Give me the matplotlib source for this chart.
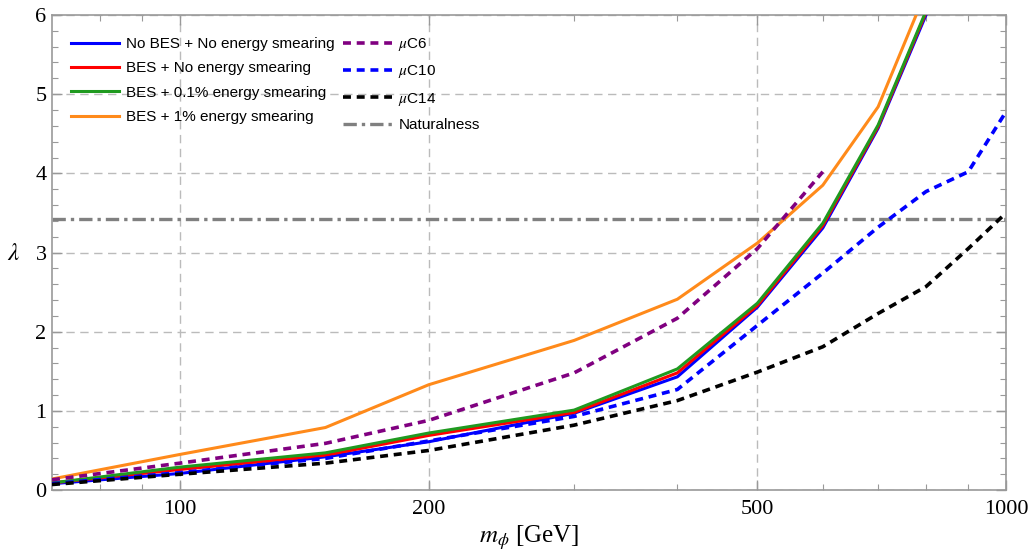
import matplotlib
matplotlib.use("Agg")
import matplotlib.pyplot as plt
from matplotlib.ticker import FixedLocator, NullFormatter, MultipleLocator

plt.rcParams["mathtext.fontset"] = "stix"

# masses (GeV) and lambda values
m_main = [70, 100, 150, 200, 300, 400, 500, 600, 700, 800]
no_bes = [0.08, 0.21, 0.42, 0.61, 0.97, 1.43, 2.31, 3.31, 4.57, 6.0]
bes_no = [0.09, 0.26, 0.44, 0.69, 0.98, 1.48, 2.33, 3.34, 4.59, 6.03]
bes_01 = [0.09, 0.29, 0.47, 0.72, 1.01, 1.53, 2.36, 3.37, 4.61, 6.05]
bes_1 = [0.14, 0.45, 0.79, 1.33, 1.89, 2.41, 3.12, 3.85, 4.84, 6.3]

m_c6 = [70, 100, 150, 200, 300, 400, 500, 600]
mu_c6 = [0.13, 0.34, 0.59, 0.88, 1.48, 2.17, 3.05, 4.02]

m_c = [70, 100, 150, 200, 300, 400, 500, 600, 700, 800, 900, 1000]
mu_c10 = [0.08, 0.22, 0.40, 0.62, 0.93, 1.27, 2.08, 2.74, 3.32, 3.77, 4.02, 4.78]
mu_c14 = [0.07, 0.20, 0.34, 0.50, 0.82, 1.13, 1.49, 1.81, 2.23, 2.57, 3.05, 3.5]

naturalness = 3.42

fig = plt.figure(figsize=(10.34, 5.55), dpi=100)
ax = fig.add_axes([0.0503, 0.117, 0.9227, 0.856])

lw = 2.2
ax.plot(m_main, no_bes, color="#0000ff", lw=lw, label="No BES + No energy smearing", zorder=3)
ax.plot(m_main, bes_no, color="#ff0000", lw=lw, label="BES + No energy smearing", zorder=3)
ax.plot(m_main, bes_01, color="#1f9a1f", lw=lw, label="BES + 0.1% energy smearing", zorder=3)
ax.plot(m_main, bes_1, color="#ff8a1a", lw=lw, label="BES + 1% energy smearing", zorder=3)
ax.plot(m_c6, mu_c6, color="#800080", lw=2.6, ls=(0, (2.2, 1.6)), label=r"$\mu$C6", zorder=4)
ax.plot(m_c, mu_c10, color="#0000ff", lw=2.6, ls=(0, (2.2, 1.6)), label=r"$\mu$C10", zorder=4)
ax.plot(m_c, mu_c14, color="black", lw=2.6, ls=(0, (2.2, 1.6)), label=r"$\mu$C14", zorder=4)
ax.axhline(naturalness, color="#808080", lw=2.4, ls=(0, (4, 1.5, 1, 1.5)), label="Naturalness", zorder=2)

ax.set_xscale("log")
ax.set_xlim(70, 1000)
ax.set_ylim(0, 6)

ax.xaxis.set_major_locator(FixedLocator([100, 200, 500, 1000]))
ax.xaxis.set_major_formatter(matplotlib.ticker.FixedFormatter(["100", "200", "500", "1000"]))
ax.xaxis.set_minor_locator(FixedLocator([80, 90, 300, 400, 600, 700, 800, 900]))
ax.xaxis.set_minor_formatter(NullFormatter())
ax.yaxis.set_major_locator(MultipleLocator(1))
ax.yaxis.set_minor_locator(MultipleLocator(0.2))

for s in ax.spines.values():
    s.set_color("#999999")
    s.set_linewidth(1.2)
ax.tick_params(which="both", direction="in", top=True, right=True, color="#999999")
ax.tick_params(which="major", length=7, width=1)
ax.tick_params(which="minor", length=4, width=0.8)
ax.tick_params(axis="both", labelsize=16, labelcolor="black")
for lab in ax.get_xticklabels() + ax.get_yticklabels():
    lab.set_family("Liberation Serif")
ax.tick_params(axis="x", pad=7)
ax.tick_params(axis="y", pad=4)

ax.grid(True, which="major", color="#bbbbbb", ls=(0, (6, 4)), lw=1.0, zorder=1)

ax.set_xlabel(r"$m_\phi$ [GeV]", fontsize=18, family="Liberation Serif", labelpad=3)
ax.set_ylabel(r"$\lambda$", fontsize=18, rotation=0, labelpad=16, va="center")

ax.legend(loc="upper left", ncol=2, frameon=False,
          prop={"family": "Liberation Sans", "size": 11},
          handlelength=3.2, handletextpad=0.4, columnspacing=0.6,
          labelspacing=0.68, bbox_to_anchor=(0.005, 0.985))

fig.savefig("out.png", dpi=100)
